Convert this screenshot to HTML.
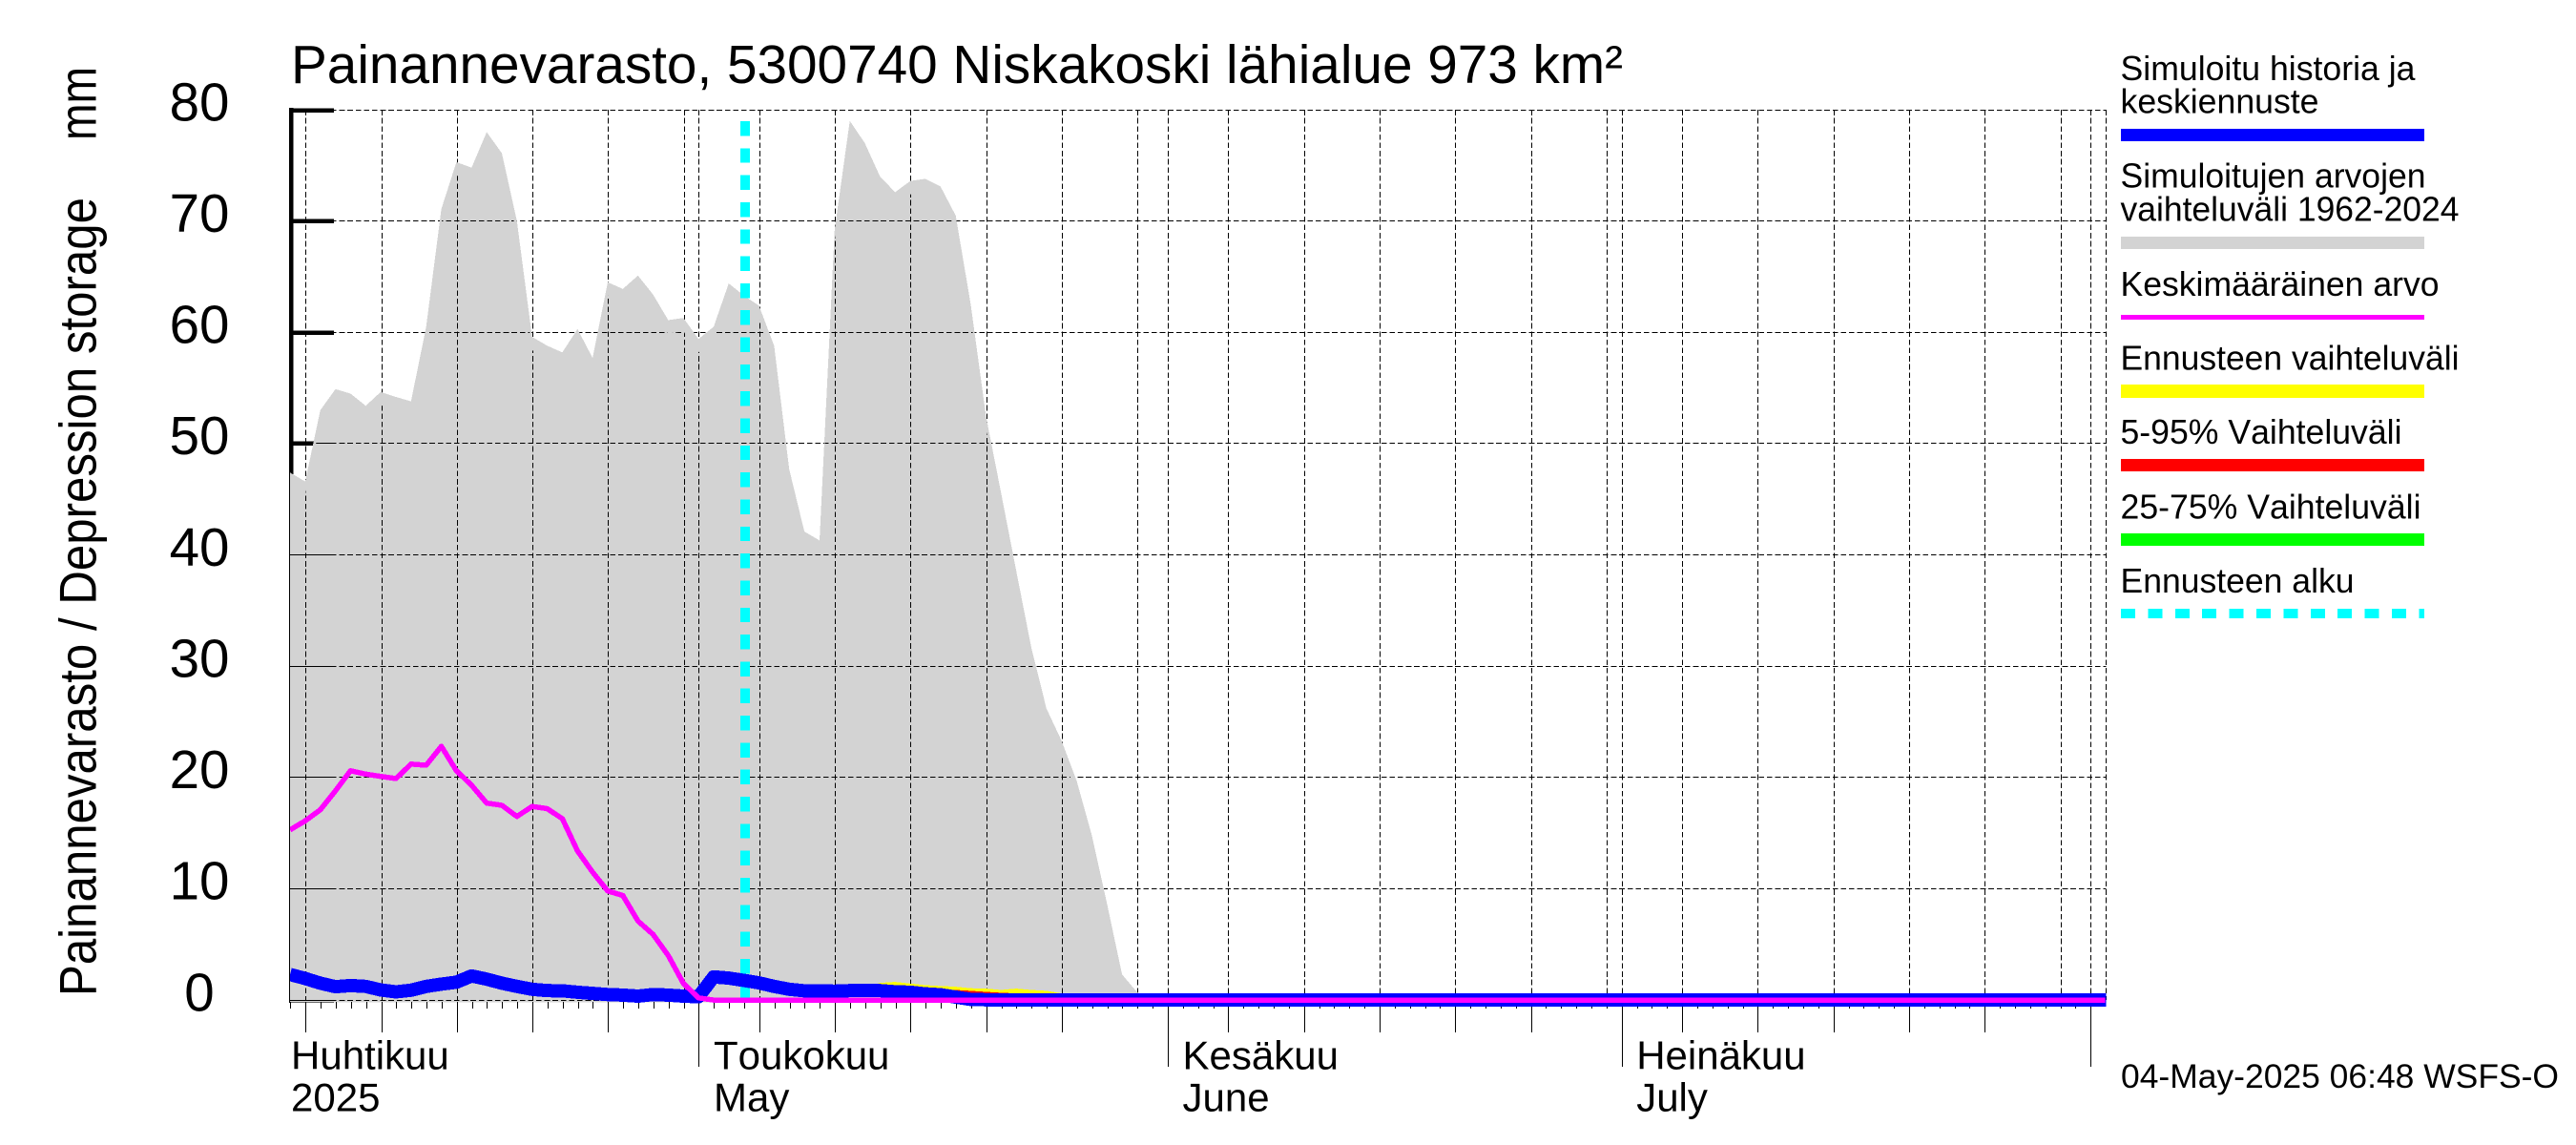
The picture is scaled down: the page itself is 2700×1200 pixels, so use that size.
<!DOCTYPE html>
<html lang="fi">
<head>
<meta charset="utf-8">
<title>Painannevarasto, 5300740 Niskakoski lähialue</title>
<style>
html,body{margin:0;padding:0;background:#fff;}
svg{display:block;}
text{font-family:"Liberation Sans",Arial,sans-serif;fill:#000;font-kerning:none;}
</style>
</head>
<body>
<svg id="chart" xmlns="http://www.w3.org/2000/svg" width="2700" height="1200" viewBox="0 0 2700 1200" shape-rendering="crispEdges">
  <rect x="0" y="0" width="2700" height="1200" fill="#ffffff"/>
  <defs><clipPath id="inset-clip"><polygon id="inset-poly" points="0,0"/></clipPath>
  <clipPath id="plot-clip"><rect x="304" y="100" width="1903.5" height="970"/></clipPath></defs>

  <g id="grid-under"></g>
  <g id="axis-thick"></g>
  <polygon id="envelope" fill="#d3d3d3" points="0,0"/>
  <g id="grid-over" clip-path="url(#inset-clip)"></g>
  <g id="x-ticks"></g>
  <line id="forecast-start" stroke="#00ffff" stroke-width="10" stroke-dasharray="15.4 12.92"/>
  <g clip-path="url(#plot-clip)">
    <polygon id="band-yellow" fill="#ffff00" points="0,0"/>
    <polygon id="band-red" fill="#ff0000" points="0,0"/>
    <polygon id="band-green" fill="#00ff00" points="0,0"/>
    <polyline id="line-history" fill="none" stroke="#0000ff" stroke-width="14" stroke-linejoin="round" points="0,0"/>
    <polyline id="line-mean" fill="none" stroke="#ff00ff" stroke-width="5.5" stroke-linejoin="round" points="0,0"/>
  </g>

  <g id="y-labels"></g>
  <g id="x-labels"></g>

  <text x="305" y="87" font-size="56.5" textLength="1396" lengthAdjust="spacingAndGlyphs">Painannevarasto, 5300740 Niskakoski lähialue 973 km²</text>
  <text transform="translate(100.5,1044) rotate(-90)" font-size="55" textLength="837" lengthAdjust="spacingAndGlyphs">Painannevarasto / Depression storage</text>
  <text transform="translate(100.5,147) rotate(-90)" font-size="55" textLength="77" lengthAdjust="spacingAndGlyphs">mm</text>

  <g font-size="36">
    <text x="2222.5" y="84" textLength="309" lengthAdjust="spacingAndGlyphs">Simuloitu historia ja</text>
    <text x="2222.5" y="118.7" textLength="208" lengthAdjust="spacingAndGlyphs">keskiennuste</text>
    <rect x="2223" y="135" width="318" height="13" fill="#0000ff"/>
    <text x="2222.5" y="196.7" textLength="320" lengthAdjust="spacingAndGlyphs">Simuloitujen arvojen</text>
    <text x="2222.5" y="231.7" textLength="355" lengthAdjust="spacingAndGlyphs">vaihteluväli 1962-2024</text>
    <rect x="2223" y="248" width="318" height="13" fill="#d3d3d3"/>
    <text x="2222.5" y="310" textLength="334" lengthAdjust="spacingAndGlyphs">Keskimääräinen arvo</text>
    <rect x="2223" y="330" width="318" height="5" fill="#ff00ff"/>
    <text x="2222.5" y="387.7" textLength="355" lengthAdjust="spacingAndGlyphs">Ennusteen vaihteluväli</text>
    <rect x="2223" y="403" width="318" height="14" fill="#ffff00"/>
    <text x="2222.5" y="465" textLength="295" lengthAdjust="spacingAndGlyphs">5-95% Vaihteluväli</text>
    <rect x="2223" y="481" width="318" height="13" fill="#ff0000"/>
    <text x="2222.5" y="543.3" textLength="315" lengthAdjust="spacingAndGlyphs">25-75% Vaihteluväli</text>
    <rect x="2223" y="559" width="318" height="13" fill="#00ff00"/>
    <text x="2222.5" y="621" textLength="245" lengthAdjust="spacingAndGlyphs">Ennusteen alku</text>
    <line x1="2223" y1="643" x2="2541" y2="643" stroke="#00ffff" stroke-width="10.4" stroke-dasharray="15 13.4"/>
  </g>
  <text x="2223" y="1140" font-size="35.3" textLength="459" lengthAdjust="spacingAndGlyphs">04-May-2025 06:48 WSFS-O</text>

<script>
// ---- chart data ----
var yTickValues = [0,10,20,30,40,50,60,70,80];
var yTickLabels = ["0","10","20","30","40","50","60","70","80"];
var monthNamesFi = ["Huhtikuu","Toukokuu","Kesäkuu","Heinäkuu"];
var monthNamesEn = ["2025","May","June","July"];
var monthStartDays = [0,30,61,91,122];       // days since 1 April
var gridDaysOfMonth = [5,10,15,20,25,30];
var monthLengths = [30,31,30,31];
var firstSeriesDay = 2.945;                  // days since 1 April
var lastAxisDay = 123;
var forecastStartDay = 33.03;                // 4 May
var forecastFirstIndex = 30;

var envelopeValues = [47.4,46.6,53,54.9,54.5,53.4,54.65,54.2,53.8,60.5,71.1,75.3,74.8,78,76.1,70,59.6,58.8,58.2,60.3,57.7,64.5,63.9,65.1,63.4,61.1,61.3,59.4,60.5,64.4,63.3,62.4,58.8,47.7,42.1,41.3,69.2,79,77,74,72.6,73.6,73.8,73.1,70.5,62.5,52.5,45.6,38.6,31.7,26.2,23.3,19.7,14.8,8.7,2.3,0.7,0];
var meanValues = [15.3,16.1,17.1,18.8,20.6,20.3,20.1,19.9,21.2,21.1,22.8,20.6,19.3,17.7,17.5,16.5,17.4,17.2,16.3,13.4,11.5,9.8,9.4,7.1,5.9,4.0,1.5,0.2,0,0,0,0,0,0,0,0,0,0,0,0,0,0,0,0,0,0,0,0,0,0,0,0,0,0,0,0,0,0,0,0,0,0,0,0,0,0,0,0,0,0,0,0,0,0,0,0,0,0,0,0,0,0,0,0,0,0,0,0,0,0,0,0,0,0,0,0,0,0,0,0,0,0,0,0,0,0,0,0,0,0,0,0,0,0,0,0,0,0,0,0,0];
var historyValues = [2.3,1.94,1.52,1.2,1.3,1.23,0.91,0.74,0.88,1.23,1.43,1.6,2.17,1.88,1.52,1.23,0.97,0.85,0.83,0.7,0.6,0.5,0.45,0.35,0.5,0.45,0.35,0.3,2.08,1.97,1.77,1.54,1.23,0.97,0.83,0.83,0.8,0.85,0.85,0.85,0.75,0.7,0.56,0.48,0.27,0.06,0.03,0,0,0,0,0,0,0,0,0,0,0,0,0,0,0,0,0,0,0,0,0,0,0,0,0,0,0,0,0,0,0,0,0,0,0,0,0,0,0,0,0,0,0,0,0,0,0,0,0,0,0,0,0,0,0,0,0,0,0,0,0,0,0,0,0,0,0,0,0,0,0,0,0,0,0,0];
var forecastMaxValues = [1.77,1.54,1.23,0.97,0.83,0.83,0.8,0.85,1.1,1.54,1.63,1.48,1.34,1.26,1.2,1.06,1.03,0.91,1.03,0.91,0.83,0.6,0.4,0];
var forecast95Values = [1.77,1.54,1.23,0.97,0.83,0.83,0.8,0.85,0.9,1.0,1.34,1.26,1.11,0.97,0.91,0.83,0.74,0.66,0.6,0.5,0.4,0.3,0.1,0];
var forecast75Values = [1.77,1.54,1.23,0.97,0.83,0.83,0.8,0.85,0.85,0.85,0.8,0.75,0.6,0.5,0.3,0.1,0.1,0,0,0,0,0,0,0];
var forecastMinValues = [1.77,1.54,1.23,0.97,0.83,0.83,0.8,0.85,0.85,0.85,0.75,0.7,0.56,0.48,0.27,0.06,0.03,0,0,0,0,0,0,0];

// ---- axis functions ----
function xScale(day){ return 257.3 + 15.856 * day; }
function yScale(v){ return 1048.1 - 11.663 * v; }
function seriesX(i){ return xScale(firstSeriesDay + i); }
function snap(p){ return Math.floor(p) + 0.5; }

var NS = "http://www.w3.org/2000/svg";
function make(tag, parent, attrs){
  var el = document.createElementNS(NS, tag);
  for (var k in attrs) el.setAttribute(k, attrs[k]);
  parent.appendChild(el);
  return el;
}
function pts(values, startIndex){
  return values.map(function(v,i){ return seriesX(i+startIndex).toFixed(1)+","+yScale(v).toFixed(1); });
}

var plotLeft = 304, plotRight = 2207.5, plotTop = yScale(80), plotBottom = yScale(0);
var gridUnder = document.getElementById("grid-under");
var gridOver = document.getElementById("grid-over");
var axisThick = document.getElementById("axis-thick");
var xTicks = document.getElementById("x-ticks");
var yLabels = document.getElementById("y-labels");
var xLabels = document.getElementById("x-labels");

// gather vertical grid days and tick kinds
var gridDays = [], longTickDays = [];
monthStartDays.slice(0,4).forEach(function(start,m){
  if (m > 0) gridDays.push(start);
  gridDaysOfMonth.forEach(function(d){
    if (d <= monthLengths[m]) {
      gridDays.push(start + d - 1);
      if (d < 30) longTickDays.push(start + d - 1);
    }
  });
});
gridDays.push(monthStartDays[4]);
gridDays.push(lastAxisDay);

[gridUnder, gridOver].forEach(function(layer){
  yTickValues.forEach(function(v){
    var h = make("line", layer, {x1:plotLeft, x2:plotRight, y1:snap(yScale(v)), y2:snap(yScale(v)), stroke:"#000", "stroke-width":1, "stroke-dasharray":"5.7 2.9"});
    
    
  });
  gridDays.forEach(function(d){
    var g = make("line", layer, {x1:snap(xScale(d)), x2:snap(xScale(d)), y1:plotTop, y2:plotBottom, stroke:"#000", "stroke-width":1, "stroke-dasharray":"5.7 2.9"});
    
    
  });
});

// heavy y axis + ticks (the envelope paints over their lower part)
var axisLine = make("line", axisThick, {x1:305, x2:305, y1:plotTop-2, y2:plotBottom, stroke:"#000", "stroke-width":4.5});


yTickValues.forEach(function(v,i){
  var t = make("line", axisThick, {x1:303, x2:350, y1:snap(yScale(v)), y2:snap(yScale(v)), stroke:"#000", "stroke-width":4.5});
  
  
  var thin = make("line", gridOver, {x1:plotLeft-1, x2:350, y1:snap(yScale(v)), y2:snap(yScale(v)), stroke:"#000", "stroke-width":1.2});
  
  
  var lab = make("text", yLabels, {x:209, y:yScale(v)+11.2, "font-size":56.5, "text-anchor":"middle"});
  lab.textContent = yTickLabels[i];
  
  
});
var thinAxis = make("line", gridOver, {x1:303.5, x2:303.5, y1:plotTop, y2:plotBottom+2, stroke:"#000", "stroke-width":1});



// envelope polygon
var envTop = pts(envelopeValues, 0);
var envEnd = seriesX(envelopeValues.length-1);
document.getElementById("envelope").setAttribute("points",
  envTop.join(" ")+" "+envEnd+",1050.7 "+plotLeft+",1050.7");

// grid overlay only shows a little inside the envelope outline
var insetTop = envelopeValues.map(function(v,i){
  return seriesX(i).toFixed(1)+","+(yScale(v)+14).toFixed(1);
});
document.getElementById("inset-poly").setAttribute("points",
  "298,"+(yScale(envelopeValues[0])+14)+" "+insetTop.join(" ")+" "+envEnd+",1060 298,1060");

// x ticks: one per day, longer every 5th, longest at month starts
for (var d = Math.ceil(firstSeriesDay); d < lastAxisDay; d++) {
  var len = 1057;
  if (longTickDays.indexOf(d) >= 0) len = 1082;
  if (monthStartDays.indexOf(d) >= 0) len = 1118;
  var tick = make("line", xTicks, {x1:snap(xScale(d)), x2:snap(xScale(d)), y1:plotBottom+2, y2:len, stroke:"#000", "stroke-width":1});
  
  
}

// month labels
monthNamesFi.forEach(function(name,m){
  var lx = m === 0 ? 305 : xScale(monthStartDays[m]) + 15;
  var a = make("text", xLabels, {x:lx, y:1120.5, "font-size":42});
  a.textContent = name;
  
  
  var b = make("text", xLabels, {x:lx, y:1164.5, "font-size":42});
  b.textContent = monthNamesEn[m];
  
  
});

// forecast start marker
var fs = document.getElementById("forecast-start");
fs.setAttribute("x1", xScale(forecastStartDay));
fs.setAttribute("x2", xScale(forecastStartDay));
fs.setAttribute("y1", 127);
fs.setAttribute("y2", plotBottom);

// forecast bands: upper edge from the band's series, lower edge from the minimum
function band(id, values){
  var top = pts(values, forecastFirstIndex);
  var low = pts(forecastMinValues, forecastFirstIndex).reverse();
  document.getElementById(id).setAttribute("points", top.concat(low).join(" "));
}
band("band-yellow", forecastMaxValues);
band("band-red", forecast95Values);
band("band-green", forecast75Values);

// lines
document.getElementById("line-history").setAttribute("points", pts(historyValues,0).join(" "));
document.getElementById("line-mean").setAttribute("points", pts(meanValues,0).join(" "));
</script>
</svg>
</body>
</html>
